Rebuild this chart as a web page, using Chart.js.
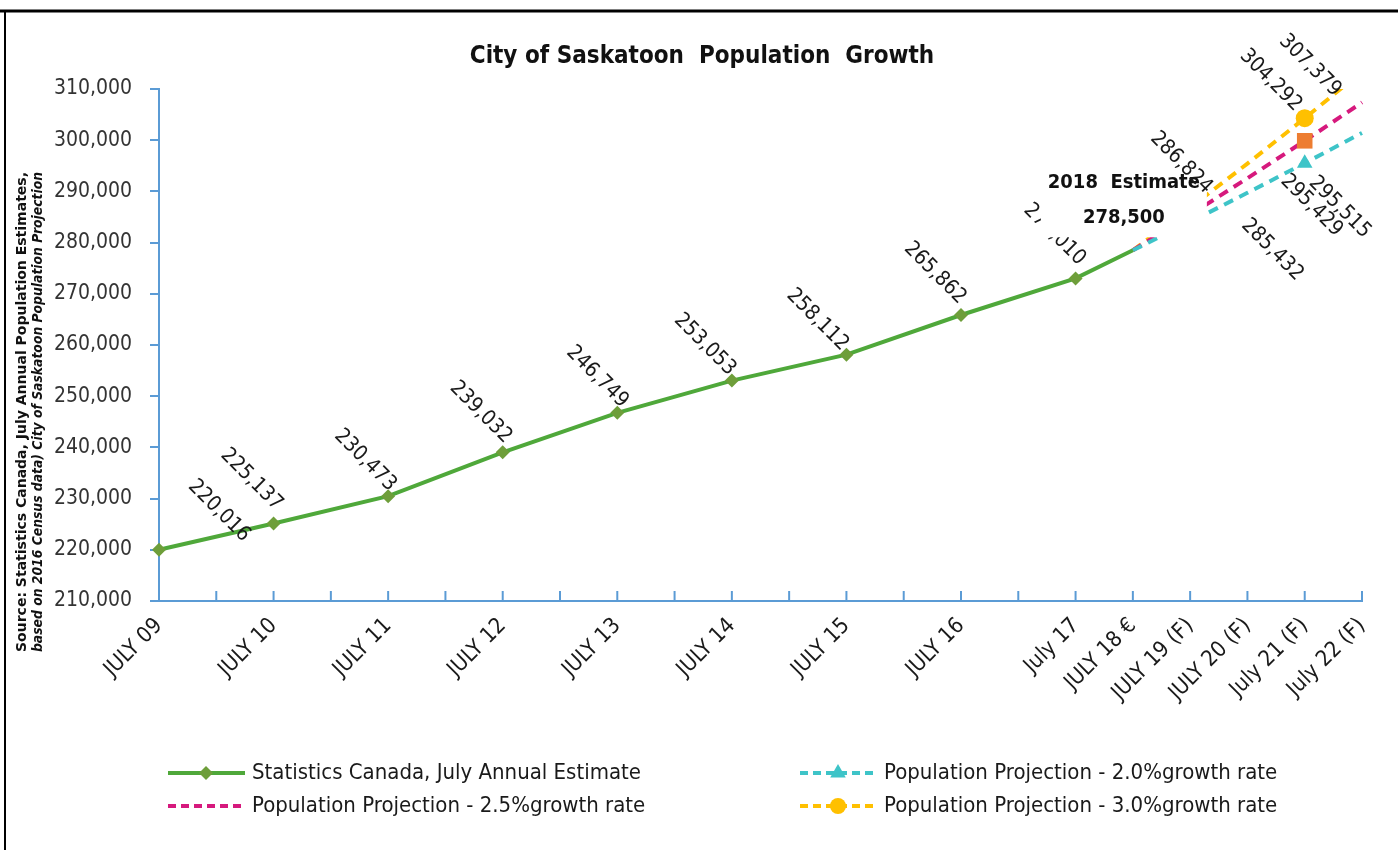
<!DOCTYPE html>
<html>
<head>
<meta charset="utf-8">
<title>City of Saskatoon Population Growth</title>
<script src="https://cdn.jsdelivr.net/npm/chart.js@4.4.1/dist/chart.umd.min.js"></script>
<style>
  html, body { margin: 0; padding: 0; background: #fff; overflow: hidden; }
  canvas { display: block; }
</style>
</head>
<body>
<canvas id="chart-population" width="1398" height="850"></canvas>
<script>
// categories (blank slots keep the two-tick spacing of the early years)
const categories = ['JULY 09', '', 'JULY 10', '', 'JULY 11', '', 'JULY 12', '', 'JULY 13', '', 'JULY 14', '',
  'JULY 15', '', 'JULY 16', '', 'July 17', 'JULY 18 €', 'JULY 19 (F)', 'JULY 20 (F)', 'July 21 (F)', 'July 22 (F)'];

const estimateValues = [220016, null, 225137, null, 230473, null, 239032, null, 246749, null, 253053, null,
  258112, null, 265862, null, 273010, 278500, null, null, null, null];
const proj20Values = [null, null, null, null, null, null, null, null, null, null, null, null,
  null, null, null, null, null, 278500, 284039, 289720, 295515, 301425];
const proj25Values = [null, null, null, null, null, null, null, null, null, null, null, null,
  null, null, null, null, null, 278500, 285432, 292568, 299882, 307379];
const proj30Values = [null, null, null, null, null, null, null, null, null, null, null, null,
  null, null, null, null, null, 278500, 286824, 295429, 304292, 313420];

const seriesNames = [
  'Statistics Canada, July Annual Estimate',
  'Population Projection - 2.0%growth rate',
  'Population Projection - 2.5%growth rate',
  'Population Projection - 3.0%growth rate'
];
const chartTitle = 'City of Saskatoon  Population  Growth';
const yAxisTitle = [
  'Source: Statistics Canada, July Annual Population Estimates,',
  'based on 2016 Census data) City of Saskatoon Population Projection'
];
const estimateNote = ['2018  Estimate', '278,500'];
const yMin = 210000, yMax = 310000, yStep = 10000;

const NARROW = "'Liberation Sans Narrow', 'Arial Narrow', 'DejaVu Sans Condensed', sans-serif";
const AXIS = '#5B9BD5';
const markerIndex = 20; // projections only show a marker on July 21

Chart.defaults.font.family = NARROW;
Chart.defaults.color = '#262626';

const fmt = v => Number(v).toLocaleString('en-US');

// frame border (top + left) and the chart title
const framePlugin = {
  id: 'frame',
  afterDraw(chart, args, opts) {
    const ctx = chart.ctx;
    ctx.save();
    ctx.strokeStyle = '#000';
    ctx.lineWidth = 3;
    ctx.beginPath(); ctx.moveTo(0, 11); ctx.lineTo(chart.width, 11); ctx.stroke();
    ctx.lineWidth = 2;
    ctx.beginPath(); ctx.moveTo(5, 10); ctx.lineTo(5, chart.height); ctx.stroke();
    ctx.font = 'bold 24px ' + NARROW;
    ctx.fillStyle = '#111';
    ctx.textAlign = 'center';
    ctx.textBaseline = 'middle';
    ctx.fillText(opts.title, opts.titleX, opts.titleY);
    ctx.restore();
  }
};

// inside tick marks on the category axis
const xTickPlugin = {
  id: 'xTicks',
  afterDraw(chart) {
    const xs = chart.scales.x, ctx = chart.ctx, b = chart.chartArea.bottom;
    ctx.save();
    ctx.strokeStyle = AXIS; ctx.lineWidth = 2;
    xs.ticks.forEach((t, i) => {
      const x = xs.getPixelForTick(i);
      ctx.beginPath(); ctx.moveTo(x, b); ctx.lineTo(x, b - 10); ctx.stroke();
    });
    ctx.restore();
  }
};

// rotated y title, two lines, squeezed to the axis length
const yTitlePlugin = {
  id: 'yTitle',
  afterDraw(chart, args, opts) {
    const ctx = chart.ctx;
    opts.lines.forEach((line, k) => {
      ctx.save();
      ctx.translate(opts.x[k], opts.centerY);
      ctx.rotate(-Math.PI / 2);
      ctx.font = (k === 1 ? 'italic ' : '') + 'bold 14px ' + NARROW;
      const w = ctx.measureText(line).width;
      ctx.scale(opts.length / w, 1);
      ctx.fillStyle = '#111';
      ctx.textAlign = 'center';
      ctx.textBaseline = 'middle';
      ctx.fillText(line, 0, 0);
      ctx.restore();
    });
  }
};

// rotated data labels + the "2018 Estimate" note box
const labelPlugin = {
  id: 'valueLabels',
  afterDatasetsDraw(chart, args, opts) {
    const ctx = chart.ctx;
    const drawLabels = list => list.forEach(it => {
      const el = chart.getDatasetMeta(it.ds).data[it.i];
      const v = chart.data.datasets[it.ds].data[it.i];
      ctx.save();
      ctx.translate(el.x + it.dx, el.y + it.dy);
      ctx.rotate(Math.PI / 4);
      ctx.font = '21px ' + NARROW;
      ctx.fillStyle = '#1a1a1a';
      ctx.textAlign = 'center';
      ctx.textBaseline = 'middle';
      ctx.fillText(fmt(v), 0, 0);
      ctx.restore();
    });
    drawLabels(opts.before);

    const n = opts.note;
    const p = chart.getDatasetMeta(0).data[n.i];
    const cx = p.x + n.dx, cy = p.y + n.dy;
    ctx.save();
    ctx.fillStyle = '#fff';
    ctx.fillRect(cx - n.w / 2, cy - n.h / 2, n.w, n.h);
    ctx.fillStyle = '#111';
    ctx.font = 'bold 20px ' + NARROW;
    ctx.textAlign = 'center';
    ctx.textBaseline = 'middle';
    ctx.fillText(n.text[0], cx, cy - 17);
    ctx.fillText(n.text[1], cx, cy + 18);
    ctx.restore();

    drawLabels(opts.after);
  }
};

// legend in two columns
const legendPlugin = {
  id: 'twoColLegend',
  afterDraw(chart, args, opts) {
    const ctx = chart.ctx;
    opts.items.forEach(it => {
      const ds = chart.data.datasets[it.ds];
      ctx.save();
      ctx.strokeStyle = ds.borderColor;
      ctx.lineWidth = 4;
      ctx.setLineDash(ds.borderDash ? [8, 5] : []);
      ctx.beginPath(); ctx.moveTo(it.x, it.y); ctx.lineTo(it.x + 77, it.y); ctx.stroke();
      ctx.setLineDash([]);
      if (it.marker) {
        ctx.fillStyle = it.markerColor;
        ctx.strokeStyle = it.markerColor;
        Chart.helpers.drawPoint(ctx, { pointStyle: it.marker, radius: it.r, borderWidth: 0 }, it.x + 38, it.y);
      }
      ctx.font = '22px ' + NARROW;
      ctx.fillStyle = '#1a1a1a';
      ctx.textAlign = 'left';
      ctx.textBaseline = 'middle';
      ctx.fillText(ds.label, it.x + 84, it.y);
      ctx.restore();
    });
  }
};

const onlyAt = (idx, r) => c => (c.dataIndex === idx ? r : 0);

const ctx = document.getElementById('chart-population');
new Chart(ctx, {
  type: 'line',
  data: {
    labels: categories,
    datasets: [
      {
        label: seriesNames[0], data: estimateValues, spanGaps: true,
        borderColor: '#4FA83A', borderWidth: 4, tension: 0,
        pointStyle: 'rectRot', pointBackgroundColor: '#6E9E3A', pointBorderWidth: 0,
        pointRadius: c => (c.dataIndex === 17 ? 0 : 7)
      },
      {
        label: seriesNames[1], data: proj20Values, spanGaps: true,
        borderColor: '#3EC4C8', borderWidth: 4, borderDash: [10, 7],
        pointStyle: 'triangle', pointBackgroundColor: '#3EC4C8', pointBorderWidth: 0,
        pointRadius: onlyAt(markerIndex, 9)
      },
      {
        label: seriesNames[2], data: proj25Values, spanGaps: true,
        borderColor: '#D6197D', borderWidth: 4, borderDash: [10, 7],
        pointStyle: 'rect', pointBackgroundColor: '#ED7D31', pointBorderWidth: 0,
        pointRadius: onlyAt(markerIndex, 11)
      },
      {
        label: seriesNames[3], data: proj30Values, spanGaps: true,
        borderColor: '#FFC000', borderWidth: 4, borderDash: [10, 7],
        pointStyle: 'circle', pointBackgroundColor: '#FFC000', pointBorderWidth: 0,
        pointRadius: onlyAt(markerIndex, 9)
      }
    ]
  },
  options: {
    responsive: false,
    animation: false,
    layout: { padding: { left: 0, right: 36, top: 89, bottom: 0 } },
    scales: {
      x: {
        type: 'category',
        offset: false,
        grid: { display: true, drawOnChartArea: false, drawTicks: false },
        border: { color: AXIS, width: 2 },
        ticks: { autoSkip: false, maxRotation: 45, minRotation: 45, padding: 12, color: '#1a1a1a', font: { size: 22 } },
        afterFit(s) { s.height = 249; }
      },
      y: {
        min: yMin, max: yMax,
        grid: { drawOnChartArea: false, drawTicks: true, tickLength: 9, color: AXIS, lineWidth: 2 },
        border: { color: AXIS, width: 2 },
        ticks: { stepSize: yStep, padding: 18, color: '#333', font: { size: 21 }, callback: v => fmt(v) },
        afterFit(s) { s.width = 159; }
      }
    },
    plugins: {
      legend: { display: false },
      tooltip: { enabled: false },
      title: { display: false },
      frame: { title: chartTitle, titleX: 702, titleY: 57 },
      yTitle: { lines: yAxisTitle, x: [22, 38], centerY: 412, length: 480 },
      valueLabels: {
        before: [
          { ds: 0, i: 0, dx: 60, dy: -39 }, { ds: 0, i: 2, dx: -22, dy: -44 },
          { ds: 0, i: 4, dx: -23, dy: -36 }, { ds: 0, i: 6, dx: -22, dy: -40 },
          { ds: 0, i: 8, dx: -20, dy: -36 }, { ds: 0, i: 10, dx: -27, dy: -36 },
          { ds: 0, i: 12, dx: -29, dy: -35 }, { ds: 0, i: 14, dx: -26, dy: -42 },
          { ds: 0, i: 16, dx: -21, dy: -44 }
        ],
        note: { i: 17, dx: -9, dy: -50, w: 166, h: 74, text: estimateNote },
        after: [
          { ds: 3, i: 18, dx: -9, dy: -45 }, { ds: 2, i: 18, dx: 82, dy: 35 },
          { ds: 3, i: 19, dx: 64, dy: 42 }, { ds: 1, i: 20, dx: 35, dy: 44 },
          { ds: 3, i: 20, dx: -34, dy: -38 }, { ds: 2, i: 21, dx: -52, dy: -37 }
        ]
      },
      twoColLegend: {
        items: [
          { ds: 0, x: 168, y: 773, marker: 'rectRot', r: 7, markerColor: '#6E9E3A' },
          { ds: 1, x: 800, y: 773, marker: 'triangle', r: 9, markerColor: '#3EC4C8' },
          { ds: 2, x: 168, y: 806 },
          { ds: 3, x: 800, y: 806, marker: 'circle', r: 8, markerColor: '#FFC000' }
        ]
      }
    }
  },
  plugins: [framePlugin, xTickPlugin, yTitlePlugin, labelPlugin, legendPlugin]
});
</script>
</body>
</html>
